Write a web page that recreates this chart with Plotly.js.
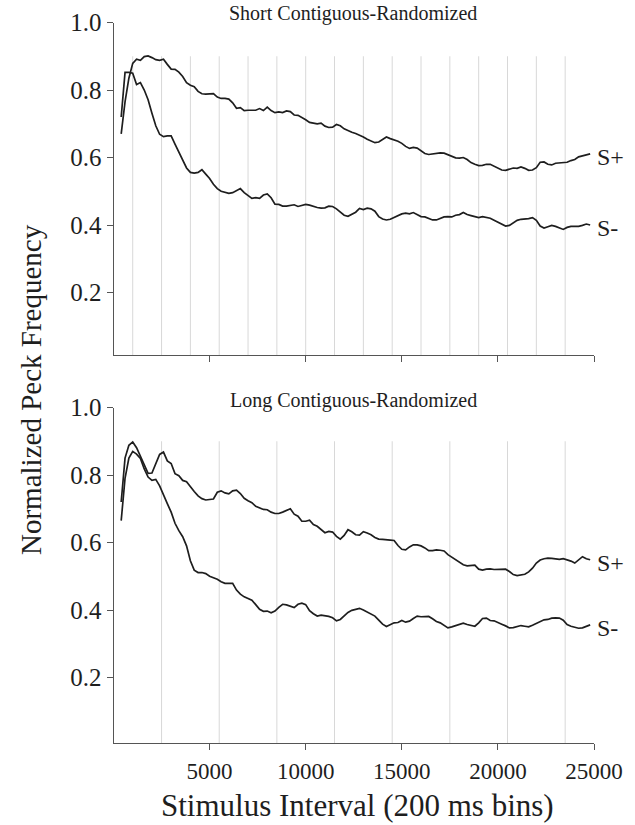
<!DOCTYPE html>
<html>
<head>
<meta charset="utf-8">
<script src="https://cdn.plot.ly/plotly-3.0.1.min.js"></script>
<style>html,body{margin:0;padding:0;background:#fff;}#chart{width:635px;height:825px;}</style>
</head>
<body>
<div id="chart"></div>
<script>
// Bins: stimulus interval (x), first bin and bin spacing
const binStart = 400;
const binStep = 200;

// Short Contiguous-Randomized
const shortSplus = [
0.670,0.765,0.835,0.879,0.891,0.888,0.899,0.901,0.896,0.890,0.888,0.891,0.876,0.862,0.861,0.853,0.840,0.822,0.814,0.810,
0.796,0.789,0.788,0.789,0.789,0.779,0.775,0.775,0.773,0.762,0.746,0.748,0.739,0.740,0.739,0.740,0.745,0.739,0.749,0.739,
0.733,0.735,0.733,0.738,0.736,0.726,0.725,0.719,0.712,0.704,0.701,0.700,0.702,0.693,0.689,0.690,0.698,0.694,0.685,0.679,
0.675,0.671,0.667,0.661,0.654,0.649,0.644,0.646,0.653,0.661,0.656,0.653,0.648,0.642,0.633,0.627,0.630,0.628,0.620,0.612,
0.609,0.611,0.613,0.614,0.613,0.609,0.603,0.599,0.598,0.600,0.594,0.585,0.580,0.576,0.577,0.580,0.580,0.575,0.568,0.563,
0.562,0.566,0.569,0.568,0.572,0.568,0.562,0.563,0.570,0.586,0.587,0.580,0.578,0.583,0.584,0.585,0.586,0.591,0.594,0.602,
0.604,0.608,0.611];
const shortSminus = [
0.720,0.852,0.852,0.850,0.816,0.822,0.800,0.771,0.731,0.694,0.669,0.662,0.664,0.664,0.640,0.617,0.592,0.569,0.556,0.554,
0.556,0.564,0.551,0.538,0.521,0.508,0.500,0.496,0.494,0.496,0.502,0.508,0.496,0.488,0.479,0.481,0.479,0.489,0.492,0.481,
0.462,0.461,0.456,0.456,0.459,0.460,0.455,0.458,0.461,0.459,0.455,0.452,0.450,0.451,0.456,0.455,0.448,0.439,0.429,0.426,
0.432,0.438,0.449,0.446,0.450,0.448,0.441,0.425,0.418,0.415,0.417,0.423,0.427,0.433,0.435,0.433,0.437,0.430,0.425,0.424,
0.419,0.415,0.415,0.420,0.424,0.425,0.424,0.429,0.431,0.437,0.431,0.428,0.425,0.422,0.425,0.423,0.420,0.414,0.408,0.402,
0.397,0.399,0.407,0.414,0.417,0.417,0.419,0.422,0.414,0.397,0.391,0.395,0.399,0.396,0.391,0.387,0.393,0.396,0.396,0.396,
0.399,0.403,0.400];

// Long Contiguous-Randomized
const longSplus = [
0.720,0.850,0.888,0.898,0.881,0.856,0.826,0.805,0.806,0.831,0.861,0.868,0.842,0.834,0.804,0.798,0.784,0.780,0.764,0.751,
0.738,0.730,0.726,0.728,0.729,0.749,0.753,0.747,0.744,0.753,0.755,0.745,0.731,0.724,0.718,0.707,0.702,0.698,0.697,0.690,
0.686,0.686,0.690,0.696,0.700,0.684,0.678,0.663,0.663,0.666,0.653,0.648,0.638,0.629,0.633,0.631,0.618,0.610,0.621,0.638,
0.632,0.623,0.622,0.632,0.628,0.623,0.615,0.610,0.609,0.607,0.607,0.606,0.591,0.580,0.578,0.587,0.593,0.593,0.590,0.584,
0.576,0.576,0.578,0.577,0.575,0.564,0.556,0.549,0.541,0.534,0.531,0.532,0.533,0.521,0.518,0.521,0.522,0.520,0.521,0.522,
0.521,0.514,0.505,0.502,0.504,0.506,0.513,0.524,0.539,0.548,0.552,0.554,0.553,0.551,0.550,0.552,0.549,0.545,0.539,0.548,
0.558,0.552,0.549];
const longSminus = [
0.665,0.790,0.850,0.870,0.862,0.849,0.818,0.794,0.784,0.787,0.768,0.740,0.715,0.690,0.657,0.635,0.617,0.590,0.546,0.518,
0.511,0.511,0.508,0.500,0.496,0.491,0.484,0.479,0.479,0.479,0.459,0.447,0.439,0.435,0.429,0.416,0.402,0.396,0.397,0.392,
0.397,0.408,0.417,0.415,0.410,0.407,0.417,0.420,0.416,0.398,0.389,0.382,0.385,0.384,0.381,0.377,0.368,0.372,0.384,0.393,
0.399,0.401,0.405,0.400,0.394,0.387,0.382,0.370,0.358,0.351,0.356,0.362,0.363,0.369,0.364,0.367,0.375,0.382,0.380,0.381,
0.381,0.374,0.366,0.362,0.355,0.347,0.350,0.353,0.358,0.361,0.357,0.355,0.352,0.362,0.375,0.376,0.369,0.368,0.364,0.358,
0.353,0.347,0.348,0.351,0.354,0.352,0.350,0.355,0.360,0.365,0.371,0.372,0.376,0.377,0.376,0.370,0.357,0.352,0.350,0.346,
0.347,0.352,0.356];

// Block boundaries (light vertical lines)
const shortBounds = [1000,2500,4000,5500,7000,8500,10000,11500,13000,14500,16000,17500,19000,20500,22000,23500];
const longBounds = [2500,5500,8500,11500,14500,17500,20500,23500];

// Text
const panelTitles = ["Short Contiguous-Randomized", "Long Contiguous-Randomized"];
const seriesNames = ["S+", "S-"];
const xTickVals = [5000,10000,15000,20000,25000];
const xTickText = ["5000","10000","15000","20000","25000"];
const yTickVals = [0.2,0.4,0.6,0.8,1.0];
const yTickText = ["0.2","0.4","0.6","0.8","1.0"];
const xTitle = "Stimulus Interval (200 ms bins)";
const yTitle = "Normalized Peck Frequency";

const xs = shortSplus.map((_, i) => binStart + i * binStep);

const FONT = "'Liberation Serif', 'Times New Roman', serif";
const INK = "#1e1e1e";
const LINE = {color: INK, width: 1.7};

const topRange = [0.015, 1.0];
const botRange = [0.006, 1.0];

const traces = [
  {x: xs, y: shortSplus, xaxis: 'x', yaxis: 'y', mode: 'lines', line: LINE, name: seriesNames[0]},
  {x: xs, y: shortSminus, xaxis: 'x', yaxis: 'y', mode: 'lines', line: LINE, name: seriesNames[1]},
  {x: xs, y: longSplus, xaxis: 'x2', yaxis: 'y2', mode: 'lines', line: LINE, name: seriesNames[0]},
  {x: xs, y: longSminus, xaxis: 'x2', yaxis: 'y2', mode: 'lines', line: LINE, name: seriesNames[1]}
];

const shapes = [];
shortBounds.forEach(b => shapes.push({type: 'line', xref: 'x', yref: 'y', x0: b, x1: b, y0: topRange[0], y1: 0.9, layer: 'below', line: {color: '#d8d8d8', width: 1}}));
longBounds.forEach(b => shapes.push({type: 'line', xref: 'x2', yref: 'y2', x0: b, x1: b, y0: botRange[0], y1: 0.9, layer: 'below', line: {color: '#d8d8d8', width: 1}}));

const xCommon = {
  range: [0, 25000], domain: [113.5/635, 594/635],
  showline: true, linecolor: '#555', linewidth: 1,
  ticks: 'outside', ticklen: 6, tickcolor: '#555', tickwidth: 1,
  tickvals: xTickVals, ticktext: xTickText, showgrid: false, zeroline: false,
  tickfont: {family: FONT, size: 23, color: INK}, ticklabelstandoff: 1
};
const yCommon = {
  showline: true, linecolor: '#555', linewidth: 1,
  ticks: 'outside', ticklen: 6, tickcolor: '#555', tickwidth: 1,
  tickvals: yTickVals, ticktext: yTickText, showgrid: false, zeroline: false,
  tickfont: {family: FONT, size: 25, color: INK}
};

const annotations = [
  {text: panelTitles[0], xref: 'paper', yref: 'paper', x: 353/635, y: 1 - 14/825, xanchor: 'center', yanchor: 'middle', showarrow: false, font: {family: FONT, size: 20, color: INK}},
  {text: panelTitles[1], xref: 'paper', yref: 'paper', x: 353/635, y: 1 - 400/825, xanchor: 'center', yanchor: 'middle', showarrow: false, font: {family: FONT, size: 20, color: INK}},
  {text: xTitle, xref: 'paper', yref: 'paper', x: 357/635, y: 1 - 805/825, xanchor: 'center', yanchor: 'middle', showarrow: false, font: {family: FONT, size: 31, color: INK}},
  {text: yTitle, xref: 'paper', yref: 'paper', x: 31/635, y: 1 - 390/825, xanchor: 'center', yanchor: 'middle', showarrow: false, textangle: -90, font: {family: FONT, size: 29, color: INK}}
];
const last = xs.length - 1;
[[shortSplus,'x','y',0],[shortSminus,'x','y',1],[longSplus,'x2','y2',0],[longSminus,'x2','y2',1]].forEach(([s, xr, yr, k]) => {
  annotations.push({text: seriesNames[k], xref: xr, yref: yr, x: xs[last], y: s[last], xanchor: 'left', yanchor: 'middle', xshift: 5, yshift: -3, showarrow: false, font: {family: FONT, size: 24, color: INK}});
});

const layout = {
  width: 635, height: 825,
  margin: {l: 0, r: 0, t: 0, b: 0},
  paper_bgcolor: '#fff', plot_bgcolor: '#fff',
  showlegend: false,
  xaxis: Object.assign({}, xCommon, {anchor: 'y', showticklabels: false}),
  yaxis: Object.assign({}, yCommon, {anchor: 'x', range: topRange, domain: [(825-355)/825, (825-22.5)/825]}),
  xaxis2: Object.assign({}, xCommon, {anchor: 'y2', showticklabels: true}),
  yaxis2: Object.assign({}, yCommon, {anchor: 'x2', range: botRange, domain: [(825-743)/825, (825-407.5)/825]}),
  shapes: shapes,
  annotations: annotations
};

Plotly.newPlot('chart', traces, layout, {staticPlot: true});
</script>
</body>
</html>
